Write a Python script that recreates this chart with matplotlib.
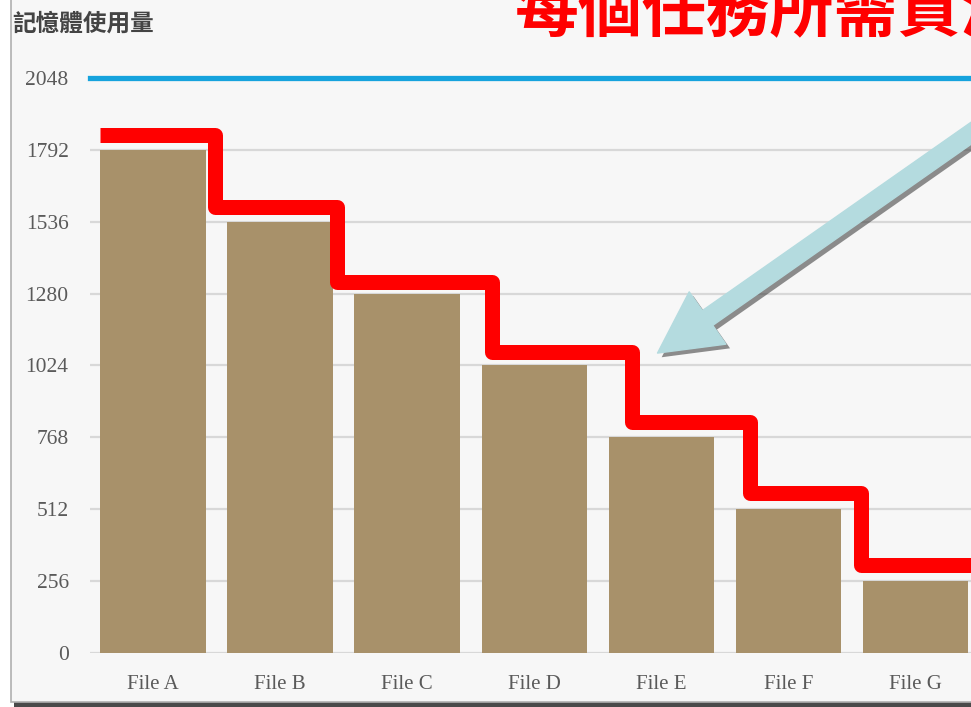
import matplotlib
matplotlib.use("Agg")
import matplotlib.pyplot as plt
import matplotlib.patheffects as pe
from matplotlib.patches import Rectangle, FancyArrowPatch

files = ["File A", "File B", "File C", "File D", "File E", "File F", "File G"]
memory = [1792, 1536, 1280, 1024, 768, 512, 256]
# red "required" levels, one per file
required = [1845, 1588, 1321, 1072, 823, 570, 313]
# x positions where the red line steps down (plus its two ends)
step_edges = [-0.42, 0.49, 1.45, 2.67, 3.77, 4.70, 5.57, 6.7]
yticks = [0, 256, 512, 768, 1024, 1280, 1536, 1792, 2048]
limit = 2048

W, H = 971, 707
fig = plt.figure(figsize=(W / 100, H / 100), dpi=100, facecolor="white")

# slide panel with a dark shadow along the bottom
fig.add_artist(Rectangle((14 / W, 0), 1, 6 / H, transform=fig.transFigure,
                         facecolor="#4a4a4a", edgecolor="none", zorder=0))
fig.add_artist(Rectangle((11 / W, 5 / H), 1, 1, transform=fig.transFigure,
                         facecolor="#f7f7f7", edgecolor="#b0b0b0", lw=1.2, zorder=0))

left = 89.5 / W
bottom = 1 - 653 / H
ax = fig.add_axes([left, bottom, 889.5 / W, (653 - 35.2) / H])
ax.set_facecolor("none")

x = list(range(len(files)))
ax.bar(x, memory, width=0.83, color="#a8916a", zorder=2)

ax.set_xlim(-0.5, 6.5)
ax.set_ylim(0, 2200)
ax.set_yticks(yticks)
ax.set_xticks(x)
ax.set_xticklabels(files)
ax.grid(axis="y", color="#d8d8d8", lw=1.6, zorder=1)
for s in ax.spines.values():
    s.set_visible(False)
ax.tick_params(axis="y", length=0, pad=15, labelsize=15.5, labelcolor="#5a5a5a")
ax.tick_params(axis="x", length=0, pad=16, labelsize=15, labelcolor="#5a5a5a")
for lab in ax.get_xticklabels() + ax.get_yticklabels():
    lab.set_fontfamily("Liberation Serif")

# capacity line
ax.axhline(limit, color="#16a3dd", lw=3.8, zorder=3, clip_on=False)

# stepped red line of required memory
xs, ys = [], []
for i, lvl in enumerate(required):
    xs += [step_edges[i], step_edges[i + 1]]
    ys += [lvl, lvl]
ax.plot(xs, ys, color="#ff0000", lw=10.8, solid_joinstyle="round",
        solid_capstyle="butt", zorder=4, clip_on=False)

# pointer arrow
arrow = FancyArrowPatch((6.75, 1950), (3.97, 1068),
                        arrowstyle="simple,head_length=4.4,head_width=4.6,tail_width=1.3",
                        mutation_scale=10, color="#b4dbdf", zorder=5, clip_on=False,
                        shrinkA=0, shrinkB=0)
arrow.set_path_effects([pe.SimplePatchShadow(offset=(3, -3), shadow_rgbFace="#333333", alpha=0.55),
                        pe.Normal()])
ax.add_patch(arrow)

fig.text(12 / W, 1 - 24 / H, "記憶體使用量", family=["Noto Sans CJK TC", "DejaVu Sans"],
         fontsize=17, fontweight="bold", color="#444444", va="center", ha="left")
fig.text(514 / W, 1 - 30 / H, "每個任務所需資源", family=["Noto Sans CJK TC", "DejaVu Sans"],
         fontsize=46, fontweight="bold", color="#ff0000", va="baseline", ha="left")

fig.savefig("out.png", dpi=100, facecolor=fig.get_facecolor())
